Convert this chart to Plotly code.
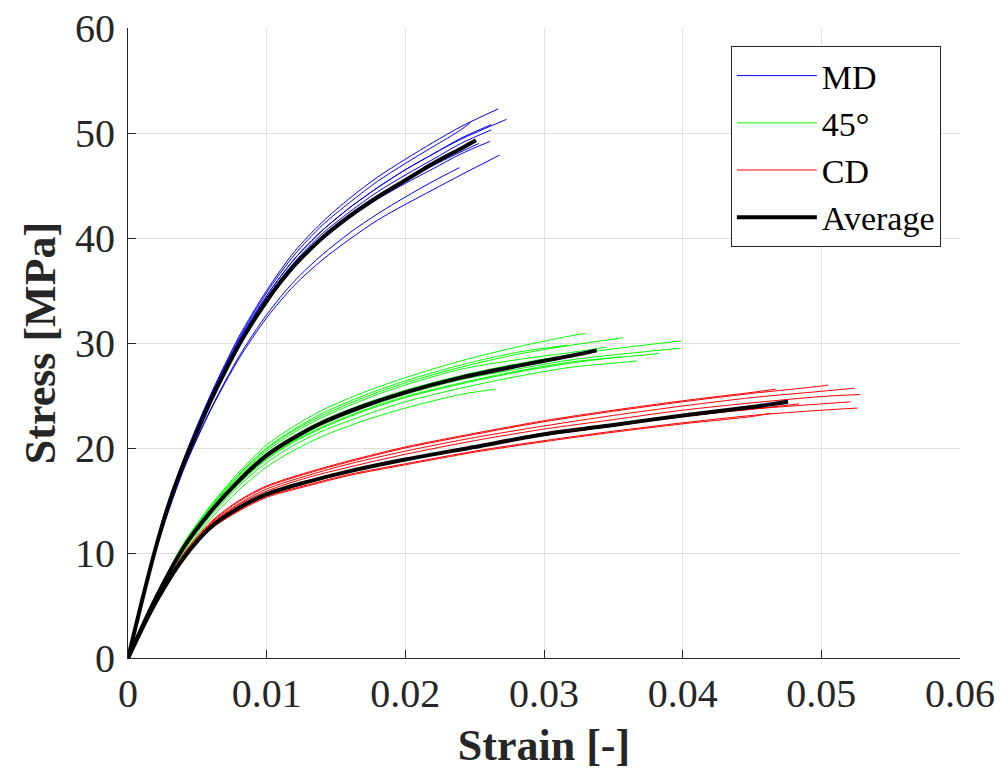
import plotly.graph_objects as go

# ---------------- data ----------------
# MD specimens: common strain grid, stress at grid points below each end, plus end point
md_grid = [0, 0.002, 0.004, 0.006, 0.008, 0.010, 0.012, 0.014, 0.016, 0.018, 0.020, 0.022, 0.024]
md_end_strain = [0.0267, 0.0273, 0.0262, 0.0262, 0.0261, 0.0253, 0.0268, 0.0239, 0.0247]
md_end_stress = [52.3, 51.3, 50.8, 50.3, 49.2, 49.0, 47.9, 46.7, 51.0]
md_stress = [
    [0, 10.7, 18.9, 25.2, 30.6, 35.0, 38.7, 41.5, 43.8, 45.8, 47.5, 49.1, 50.6],
    [0, 10.6, 18.7, 24.9, 30.2, 34.5, 38.0, 40.7, 42.9, 44.8, 46.5, 48.0, 49.4],
    [0, 10.6, 18.7, 24.9, 30.2, 34.5, 38.0, 40.7, 42.9, 44.8, 46.5, 48.0, 49.5],
    [0, 10.5, 18.6, 24.8, 30.0, 34.3, 37.7, 40.4, 42.5, 44.4, 46.0, 47.5, 49.0],
    [0, 10.5, 18.5, 24.6, 29.7, 33.9, 37.2, 39.8, 41.9, 43.7, 45.2, 46.6, 48.0],
    [0, 10.5, 18.5, 24.6, 29.8, 34.0, 37.4, 40.0, 42.1, 43.9, 45.5, 46.9, 48.2],
    [0, 10.2, 17.9, 23.7, 28.5, 32.4, 35.5, 37.9, 39.9, 41.7, 43.2, 44.6, 46.0],
    [0, 10.3, 18.0, 23.8, 28.7, 32.7, 35.9, 38.4, 40.5, 42.3, 43.9, 45.4],
    [0, 10.6, 18.8, 25.1, 30.4, 34.8, 38.4, 41.2, 43.4, 45.4, 47.1, 48.7, 50.3],
]

g45_grid = [0, 0.002, 0.004, 0.006, 0.008, 0.010, 0.012, 0.014, 0.017, 0.020,
            0.024, 0.028, 0.032, 0.036]
g45_end_strain = [0.0330, 0.0357, 0.0399, 0.0398, 0.0383, 0.0367, 0.0356, 0.0265, 0.0317, 0.0345]
g45_end_stress = [30.9, 30.5, 30.2, 29.5, 29.0, 28.3, 28.7, 25.6, 29.8, 29.6]
g45_stress = [
    [0, 5.9, 10.9, 14.6, 17.7, 20.3, 22.1, 23.6, 25.3, 26.7, 28.3, 29.6, 30.7],
    [0, 5.8, 10.8, 14.4, 17.4, 19.9, 21.7, 23.1, 24.8, 26.2, 27.7, 28.9, 29.8],
    [0, 5.7, 10.6, 14.2, 17.1, 19.5, 21.2, 22.6, 24.2, 25.5, 26.9, 28.0, 28.9, 29.6],
    [0, 5.6, 10.4, 13.9, 16.8, 19.1, 20.8, 22.2, 23.8, 25.1, 26.5, 27.5, 28.4, 29.0],
    [0, 5.6, 10.4, 13.9, 16.7, 19.0, 20.7, 22.0, 23.6, 24.9, 26.2, 27.3, 28.2, 28.7],
    [0, 5.5, 10.2, 13.6, 16.4, 18.6, 20.3, 21.6, 23.1, 24.4, 25.7, 26.8, 27.7, 28.2],
    [0, 5.6, 10.3, 13.8, 16.6, 18.9, 20.6, 21.9, 23.5, 24.8, 26.1, 27.2, 28.1],
    [0, 5.4, 10.0, 13.3, 16.0, 18.2, 19.8, 21.1, 22.6, 23.8, 25.1],
    [0, 5.8, 10.8, 14.5, 17.5, 20.0, 21.8, 23.3, 25.0, 26.4, 27.9, 29.1],
    [0, 5.7, 10.7, 14.3, 17.3, 19.7, 21.5, 22.9, 24.6, 26.0, 27.5, 28.4, 29.1],
]

cd_grid = [0, 0.002, 0.004, 0.006, 0.008, 0.010, 0.013, 0.016, 0.020, 0.025,
           0.030, 0.035, 0.040, 0.045, 0.050]
cd_end_strain = [0.0467, 0.0505, 0.0524, 0.0528, 0.0521, 0.0526, 0.0484, 0.0463]
cd_end_stress = [25.6, 26.0, 25.7, 25.1, 24.4, 23.8, 24.2, 23.3]
cd_stress = [
    [0, 5.4, 9.9, 13.0, 15.0, 16.4, 17.7, 18.8, 20.1, 21.4, 22.6, 23.6, 24.5, 25.3],
    [0, 5.4, 9.8, 12.9, 14.9, 16.3, 17.6, 18.7, 20.0, 21.3, 22.5, 23.5, 24.4, 25.2, 25.9],
    [0, 5.3, 9.7, 12.8, 14.7, 16.1, 17.4, 18.5, 19.7, 21.0, 22.1, 23.1, 24.0, 24.8, 25.4],
    [0, 5.3, 9.6, 12.7, 14.6, 15.9, 17.2, 18.2, 19.4, 20.7, 21.8, 22.7, 23.6, 24.3, 24.9],
    [0, 5.3, 9.5, 12.5, 14.3, 15.6, 16.8, 17.8, 18.9, 20.1, 21.2, 22.1, 23.0, 23.7, 24.2],
    [0, 5.2, 9.4, 12.3, 14.1, 15.4, 16.5, 17.5, 18.5, 19.7, 20.7, 21.6, 22.4, 23.1, 23.6],
    [0, 5.3, 9.5, 12.5, 14.3, 15.6, 16.8, 17.8, 18.9, 20.1, 21.2, 22.1, 23.0, 23.7],
    [0, 5.2, 9.4, 12.3, 14.0, 15.3, 16.4, 17.4, 18.4, 19.6, 20.6, 21.5, 22.3, 23.0],
]

# Average curves
md_avg_strain = [0, 0.001, 0.002, 0.003, 0.004, 0.005, 0.006, 0.007, 0.008, 0.009, 0.010,
                 0.011, 0.012, 0.014, 0.016, 0.018, 0.020, 0.022, 0.024, 0.0251]
md_avg_stress = [0, 5.4, 10.5, 14.9, 18.5, 21.6, 24.6, 27.3, 29.8, 32.0, 34.0,
                 35.8, 37.4, 40.0, 42.1, 43.9, 45.5, 47.1, 48.5, 49.3]
g45_avg_strain = [0, 0.002, 0.004, 0.006, 0.008, 0.010, 0.012, 0.014, 0.017, 0.020,
                  0.024, 0.028, 0.032, 0.0338]
g45_avg_stress = [0, 5.7, 10.5, 14.0, 16.9, 19.3, 21.0, 22.4, 24.0, 25.3,
                  26.7, 27.8, 28.8, 29.3]
cd_avg_strain = [0, 0.002, 0.004, 0.006, 0.008, 0.010, 0.013, 0.016, 0.020, 0.025,
                 0.030, 0.035, 0.040, 0.045, 0.0476]
cd_avg_stress = [0, 5.3, 9.5, 12.5, 14.3, 15.6, 16.8, 17.8, 18.9, 20.1,
                 21.3, 22.2, 23.1, 23.9, 24.4]

x_ticks = [0, 0.01, 0.02, 0.03, 0.04, 0.05, 0.06]
y_ticks = [0, 10, 20, 30, 40, 50, 60]

# ---------------- figure ----------------
FONT = "Liberation Serif"
TXT = "#262626"
fig = go.Figure()

groups = [
    ("MD", "rgb(0,0,255)", md_grid, md_stress, md_end_strain, md_end_stress),
    ("45°", "rgb(0,255,0)", g45_grid, g45_stress, g45_end_strain, g45_end_stress),
    ("CD", "rgb(255,0,0)", cd_grid, cd_stress, cd_end_strain, cd_end_stress),
]
for name, color, grid, stresses, ends_x, ends_y in groups:
    for i, (s, ex, ey) in enumerate(zip(stresses, ends_x, ends_y)):
        n = min(len(s), len([g for g in grid if g < ex]))
        xs = list(grid[:n]) + [ex]
        ys = list(s[:n]) + [ey]
        fig.add_trace(go.Scatter(
            x=xs, y=ys, mode="lines", name=name, legendgroup=name,
            showlegend=(i == 0),
            line=dict(color=color, width=1, shape="spline", smoothing=0.8),
            hoverinfo="skip"))

for i, (ax, ay) in enumerate([(md_avg_strain, md_avg_stress),
                              (g45_avg_strain, g45_avg_stress),
                              (cd_avg_strain, cd_avg_stress)]):
    fig.add_trace(go.Scatter(
        x=ax, y=ay, mode="lines", name="Average", legendgroup="Average",
        showlegend=(i == 0),
        line=dict(color="black", width=4, shape="spline", smoothing=0.8)))

axis_common = dict(
    showgrid=True, gridcolor="rgb(223,223,223)", gridwidth=1,
    showline=True, linecolor=TXT, linewidth=1, mirror=False,
    ticks="inside", ticklen=8, tickcolor=TXT, tickwidth=1,
    tickfont=dict(family=FONT, size=40, color=TXT),
    zeroline=False, automargin=False, ticklabeloverflow="allow",
)
fig.update_xaxes(
    range=[0, 0.06], tickvals=x_ticks, ticktext=[str(v) for v in x_ticks],
    title=dict(text="<b>Strain [-]</b>", font=dict(family=FONT, size=44, color=TXT), standoff=14),
    **axis_common)
fig.update_yaxes(
    range=[0, 60], tickvals=y_ticks, ticktext=[str(v) for v in y_ticks],
    ticklabelstandoff=4,
    title=dict(text="<b>Stress [MPa]</b>", font=dict(family=FONT, size=44, color=TXT), standoff=5),
    **axis_common)

fig.update_layout(
    width=1002, height=770,
    margin=dict(l=128, r=42, t=28, b=112, autoexpand=False),
    paper_bgcolor="white", plot_bgcolor="white",
    showlegend=True,
    legend=dict(
        x=0.977, y=0.9714, xanchor="right", yanchor="top",
        bgcolor="white", bordercolor=TXT, borderwidth=1,
        font=dict(family=FONT, size=34, color="black"),
        tracegroupgap=0, itemwidth=80,
    ),
)

# remove the browser's default 8 px page margin so the figure fills the window
fig.write_html("out.html", config={"displayModeBar": False},
               post_script="document.body.style.margin='0px';")
